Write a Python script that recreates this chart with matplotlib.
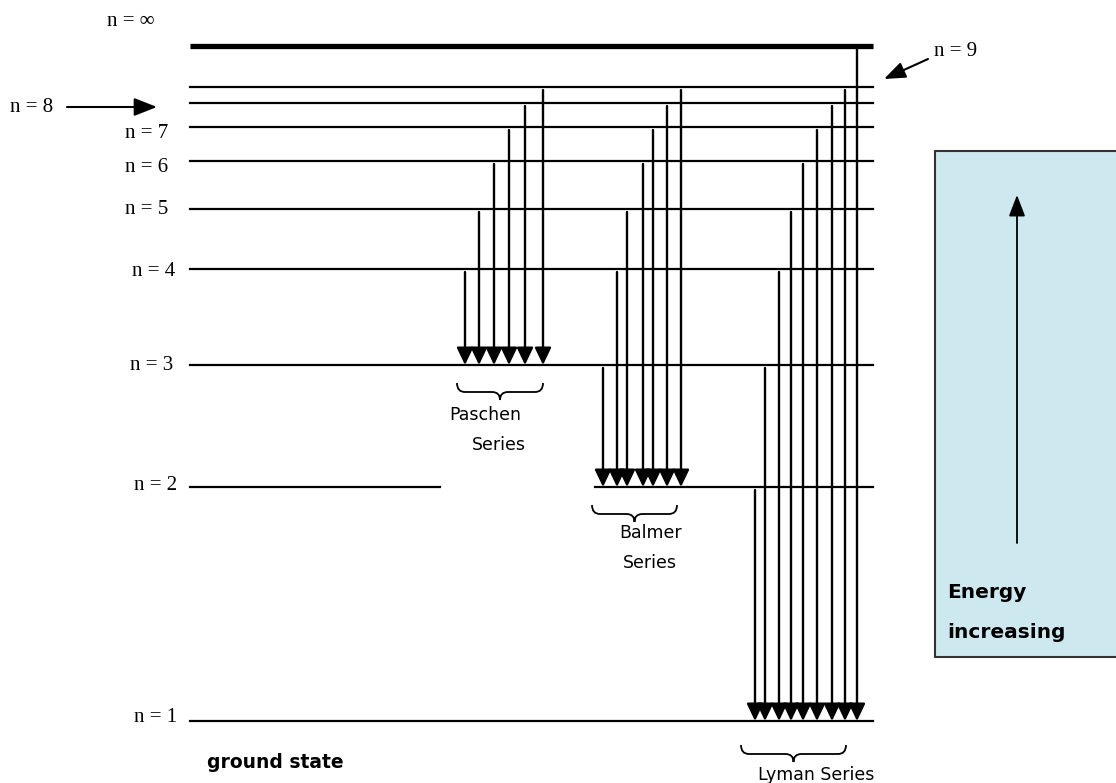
""" Hydrogen energy level diagram with Lyman, Balmer and Paschen series """
import matplotlib
matplotlib.use("Agg")
import matplotlib.pyplot as plt
from matplotlib.path import Path
from matplotlib.patches import PathPatch, Rectangle

# energy levels, top of diagram = n = infinity (diagram units)
level_names = ["1", "2", "3", "4", "5", "6", "7", "8", "9", "∞"]
level_pos = [721, 487, 365, 269, 209, 161, 127, 103, 87, 46]

# transitions: upper level names, lower level name, horizontal slot of each arrow
paschen_upper = ["4", "5", "6", "7", "8", "9"]
paschen_x = [465, 479, 494, 509, 525, 543]
balmer_upper = ["3", "4", "5", "6", "7", "8", "9"]
balmer_x = [603, 617, 627, 643, 653, 667, 681]
lyman_upper = ["2", "3", "4", "5", "6", "7", "8", "9", "∞"]
lyman_x = [755, 765, 779, 791, 803, 817, 832, 845, 857]

series = [
    ("Paschen", paschen_upper, "3", paschen_x),
    ("Balmer", balmer_upper, "2", balmer_x),
    ("Lyman", lyman_upper, "1", lyman_x),
]

SERIF = "Liberation Serif"
HAND = "DejaVu Sans"
Y = dict(zip(level_names, level_pos))


def brace(ax, x0, x1, y, depth=9, tip=8):
    """horizontal curly bracket opening upwards, point at the middle bottom"""
    xm = (x0 + x1) / 2
    verts = [
        (x0, y), (x0, y + depth), (x0 + 8, y + depth),
        (xm - 8, y + depth), (xm, y + depth), (xm, y + depth + tip),
        (xm, y + depth), (xm + 8, y + depth),
        (x1 - 8, y + depth), (x1, y + depth), (x1, y),
    ]
    codes = [
        Path.MOVETO, Path.CURVE3, Path.CURVE3,
        Path.LINETO, Path.CURVE3, Path.CURVE3,
        Path.CURVE3, Path.CURVE3,
        Path.LINETO, Path.CURVE3, Path.CURVE3,
    ]
    ax.add_patch(PathPatch(Path(verts, codes), fill=False, lw=1.3, color="black"))


def down_arrow(ax, x, y_from, y_to):
    ax.annotate(
        "", xy=(x, y_to), xytext=(x, y_from),
        arrowprops=dict(arrowstyle="-|>,head_length=1.05,head_width=0.5",
                        mutation_scale=10, lw=1.7, color="black",
                        shrinkA=0, shrinkB=0),
    )


fig = plt.figure(figsize=(11.16, 7.83), dpi=100)
ax = fig.add_axes([0, 0, 1, 1])
ax.set_xlim(0, 1116)
ax.set_ylim(783, 0)
ax.axis("off")

# level lines
left, right = 190, 873
for name, y in zip(level_names, level_pos):
    if name == "∞":
        ax.plot([left, right], [y, y], color="black", lw=3.8, solid_capstyle="butt")
    elif name == "2":
        ax.plot([left, 440], [y, y], color="black", lw=1.6)
        ax.plot([595, right], [y, y], color="black", lw=1.6)
    else:
        ax.plot([left, right], [y, y], color="black", lw=1.6)

# level labels
label_dx = {"1": 177, "2": 177, "3": 173, "4": 175, "5": 168, "6": 168, "7": 168}
label_dy = {"1": -3, "2": -2, "3": 0, "4": 3, "5": 0, "6": 7, "7": 6}
for name in label_dx:
    ax.text(label_dx[name], Y[name] + label_dy[name], "n = " + name, ha="right",
            va="center", fontsize=15, family=SERIF)
ax.text(107, 22, "n = ∞", ha="left", va="center", fontsize=15, family=SERIF)
ax.text(10, 107, "n = 8", ha="left", va="center", fontsize=15, family=SERIF)
ax.annotate("", xy=(157, 107), xytext=(67, 107),
            arrowprops=dict(arrowstyle="-|>,head_length=1.4,head_width=0.55",
                            mutation_scale=10, lw=1.5, color="black",
                            shrinkA=0, shrinkB=0))
ax.text(934, 52, "n = 9", ha="left", va="center", fontsize=15, family=SERIF)
ax.annotate("", xy=(884, 79), xytext=(928, 59),
            arrowprops=dict(arrowstyle="-|>,head_length=1.3,head_width=0.5",
                            mutation_scale=10, lw=1.5, color="black",
                            shrinkA=0, shrinkB=0))

# transitions
for sname, uppers, lower, xs in series:
    for up, x in zip(uppers, xs):
        down_arrow(ax, x, Y[up] + 3, Y[lower])

# brackets and series names
brace(ax, 457, 543, 383)
ax.text(485, 415, "Paschen", ha="center", va="center", fontsize=12.5, family=HAND)
ax.text(499, 445, "Series", ha="center", va="center", fontsize=12.5, family=HAND)
brace(ax, 592, 677, 505)
ax.text(651, 533, "Balmer", ha="center", va="center", fontsize=12.5, family=HAND)
ax.text(650, 563, "Series", ha="center", va="center", fontsize=12.5, family=HAND)
brace(ax, 741, 846, 745)
ax.text(816, 775, "Lyman Series", ha="center", va="center", fontsize=12.5, family=HAND)

ax.text(275, 762, "ground state", ha="center", va="center", fontsize=13.5,
        family=HAND, fontweight="bold")

# energy box
ax.add_patch(Rectangle((935, 151), 200, 506, facecolor="#cde9ef",
                       edgecolor="#333333", lw=1.5))
ax.annotate("", xy=(1017, 195), xytext=(1017, 543),
            arrowprops=dict(arrowstyle="-|>,head_length=1.3,head_width=0.5",
                            mutation_scale=10, lw=1.3, color="black",
                            shrinkA=0, shrinkB=0))
ax.text(947, 593, "Energy", ha="left", va="center", fontsize=14.5,
        family=HAND, fontweight="bold")
ax.text(947, 633, "increasing", ha="left", va="center", fontsize=14.5,
        family=HAND, fontweight="bold")

fig.savefig("out.png", dpi=100)
